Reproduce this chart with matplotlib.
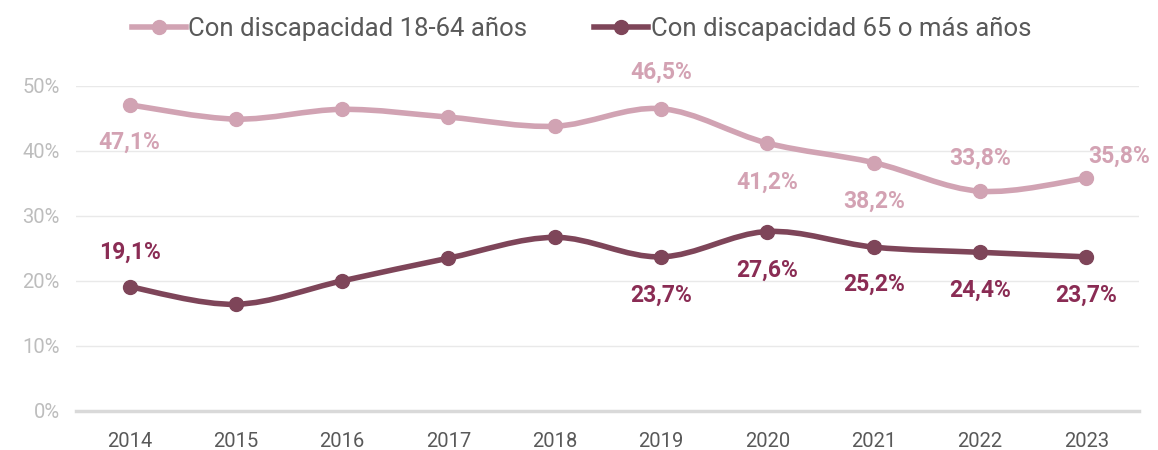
import numpy as np
import matplotlib.pyplot as plt
from matplotlib.path import Path
from matplotlib.patches import PathPatch
from matplotlib.lines import Line2D

plt.rcParams['font.family'] = ['Roboto', 'DejaVu Sans']

years = ['2014', '2015', '2016', '2017', '2018', '2019', '2020', '2021', '2022', '2023']
joven = [47.1, 44.9, 46.4, 45.2, 43.8, 46.5, 41.2, 38.2, 33.8, 35.8]
mayor = [19.1, 16.4, 20.0, 23.5, 26.7, 23.7, 27.6, 25.2, 24.4, 23.7]
label_joven = 'Con discapacidad 18-64 años'
label_mayor = 'Con discapacidad 65 o más años'

# which points get a label and where (offset in points)
lab_joven = {0: (0, -27), 5: (0, 26), 6: (0, -28), 7: (0, -28), 8: (0, 24), 9: (24, 16)}
lab_mayor = {0: (0, 25), 5: (0, -28), 6: (0, -28), 7: (0, -27), 8: (0, -27), 9: (0, -28)}

c_joven = '#D1A3B3'
c_mayor = '#7E4559'
c_lab_joven = '#D3A2B3'
c_lab_mayor = '#8A2C54'


def smooth_path(y):
    # Bezier curves like Excel "smoothed line"
    x = np.arange(len(y), dtype=float)
    y = np.asarray(y, dtype=float)
    pts = np.column_stack([x, y])
    verts = [pts[0]]
    codes = [Path.MOVETO]
    n = len(pts)
    for i in range(n - 1):
        p0 = pts[i - 1] if i > 0 else pts[i]
        p1 = pts[i]
        p2 = pts[i + 1]
        p3 = pts[i + 2] if i + 2 < n else pts[i + 1]
        c1 = p1 + (p2 - p0) / 6
        c2 = p2 - (p3 - p1) / 6
        verts += [c1, c2, p2]
        codes += [Path.CURVE4] * 3
    return Path(verts, codes)


fig = plt.figure(figsize=(11.58, 4.5), dpi=100)
ax = fig.add_axes([0.066, 0.087, 0.918, 0.722])

for vals, col, labs, lcol in [(joven, c_joven, lab_joven, c_lab_joven),
                              (mayor, c_mayor, lab_mayor, c_lab_mayor)]:
    ax.add_patch(PathPatch(smooth_path(vals), facecolor='none', edgecolor=col,
                           lw=4, capstyle='round', joinstyle='round', zorder=3))
    ax.plot(range(len(vals)), vals, 'o', color=col, ms=10, zorder=4)
    for i, off in labs.items():
        txt = f'{vals[i]:.1f}%'.replace('.', ',')
        ax.annotate(txt, (i, vals[i]), xytext=off, textcoords='offset points',
                    ha='center', va='center', fontsize=16.5, fontweight='bold',
                    color=lcol, zorder=5)

ax.set_xlim(-0.5, 9.5)
ax.set_ylim(0, 50)
ax.set_xticks(range(len(years)))
ax.set_xticklabels(years, fontsize=14.5, color='#595959')
ax.set_yticks([0, 10, 20, 30, 40, 50])
ax.set_yticklabels([f'{v}%' for v in [0, 10, 20, 30, 40, 50]], fontsize=14.5, color='#BDBDBD')
ax.tick_params(axis='both', length=0)
ax.tick_params(axis='x', pad=15)
ax.tick_params(axis='y', pad=12)
ax.grid(axis='y', color='#E9E9E9', lw=1)
ax.set_axisbelow(True)
for s in ['top', 'right', 'left']:
    ax.spines[s].set_visible(False)
ax.spines['bottom'].set_color('#D9D9D9')
ax.spines['bottom'].set_linewidth(2.5)

handles = [Line2D([], [], color=c_joven, lw=4, marker='o', ms=10),
           Line2D([], [], color=c_mayor, lw=4, marker='o', ms=10)]
fig.legend(handles, [label_joven, label_mayor], loc='center', bbox_to_anchor=(0.502, 0.935),
           ncol=2, frameon=False, fontsize=18.5, labelcolor='#595959',
           handlelength=2.1, handletextpad=0.1, columnspacing=2.6)

fig.savefig('out.png', dpi=100)
